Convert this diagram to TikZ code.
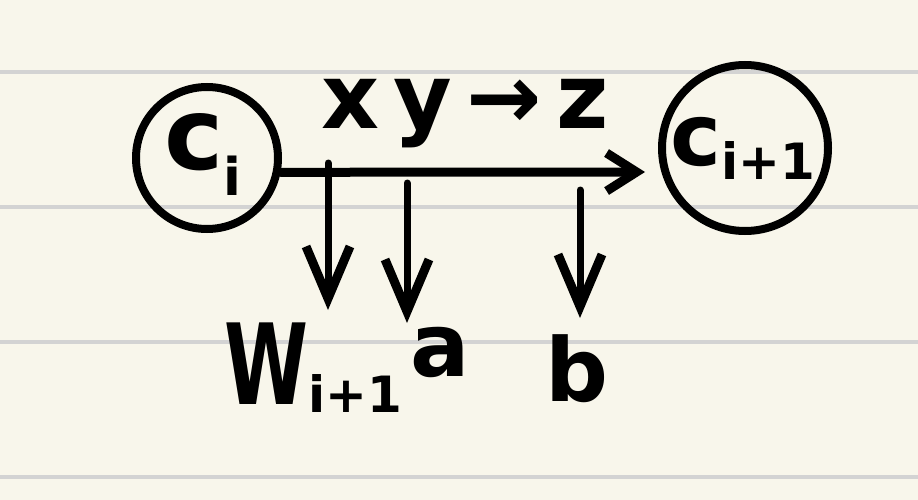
\documentclass[tikz,border=0pt]{standalone}
\usepackage{fontspec}
\usepackage{graphicx}
\setmainfont{DejaVu Sans}
\usetikzlibrary{arrows.meta}
\definecolor{paper}{HTML}{F8F6EB}
\definecolor{rule}{HTML}{D3D3D3}
\tikzset{
	ink/.style={line width=9pt,line cap=round,line join=round},
	state/.style={circle,draw,line width=8pt,inner sep=0pt},
	hand/.style={font=\bfseries\fontsize{#1}{#1}\selectfont,inner sep=0pt},
	down/.style={ink,line width=7pt,-{Straight Barb[length=52pt,width=44pt,line width=9pt]}}
}
\begin{document}
\begin{tikzpicture}[x=1pt,y=-1pt]
	\fill[paper] (0,0) rectangle (918,500);
	\useasboundingbox (0,0) rectangle (918,500);
	\foreach \y in {72,207,342,477}
		\draw[rule,line width=4pt] (0,\y)--(918,\y);
	\node[state,minimum size=142pt] (ci) at (207,158) {};
	\node[hand=100] at ([xshift=-4pt,yshift=4pt]ci) {c\raisebox{-26pt}{\fontsize{52}{52}\selectfont i}};
	\node[state,minimum size=166pt] (cnext) at (745,148) {};
	\node[hand=86] at ([xshift=-2pt]cnext) {c\raisebox{-14pt}{\fontsize{50}{50}\selectfont i+1}};
	\node[hand=90,font=\bfseries\fontsize{90}{90}\selectfont\addfontfeatures{LetterSpace=16}] (trans) at (465,114) {xy→z};
	\coordinate (tip) at (645,172);
	\draw[ink,-{Straight Barb[length=30pt,width=38pt,line width=9pt]}] (ci.-11)--(tip);
	\coordinate (t1) at (328,163);
	\coordinate (t2) at (407,183);
	\coordinate (t3) at (580,190);
	\node[hand=112] (w) at (313,368) {\scalebox{0.68}[1]{W}\raisebox{-8pt}{\fontsize{50}{50}\selectfont i+1}};
	\node[hand=88] (a) at (440,352) {a};
	\node[hand=88] (b) at (577,369) {b};
	\draw[down] (t1)--(t1|-0,310);
	\draw[down] (t2)--(t2|-0,323);
	\draw[down] (t3)--(t3|-0,318);
\end{tikzpicture}
\end{document}
